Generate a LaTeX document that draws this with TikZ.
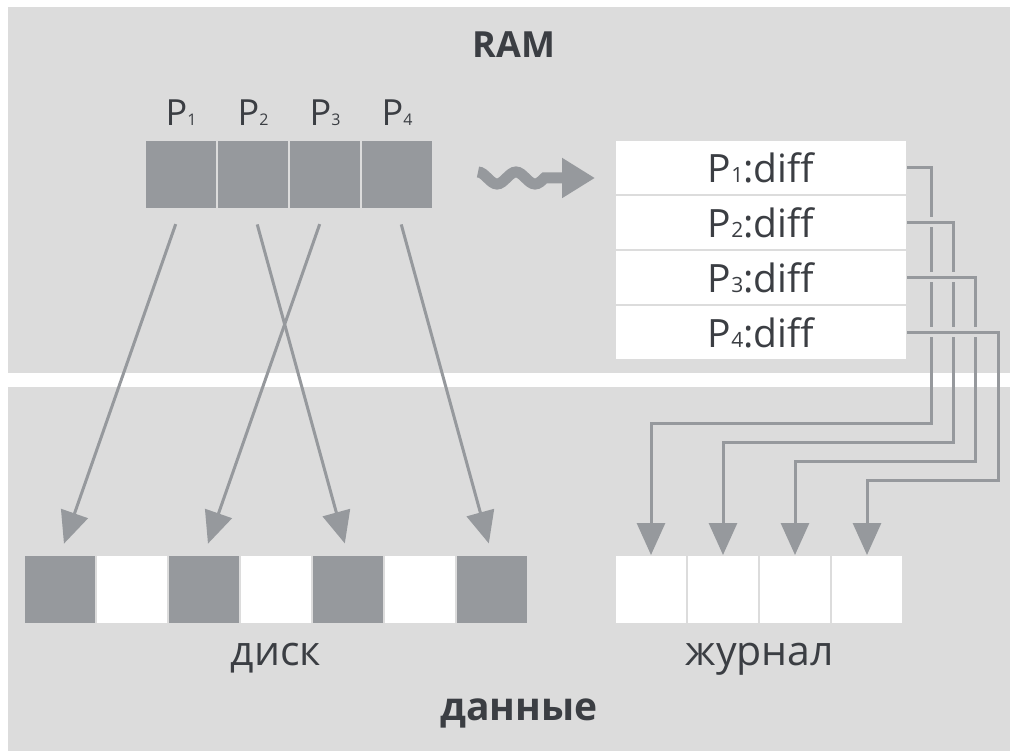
\documentclass[tikz,border=0pt]{standalone}
\usepackage{fontspec}
\setmainfont{Open Sans}
\usetikzlibrary{arrows.meta}
\usetikzlibrary{positioning}
\definecolor{panel}{HTML}{DCDCDC}
\definecolor{cell}{HTML}{96999D}
\definecolor{ink}{HTML}{3B3E43}
\tikzset{
  page/.style={draw=panel, line width=2pt, minimum width=72pt, minimum height=69pt, inner sep=0pt, outer sep=0pt},
  full/.style={page, fill=cell},
  blank/.style={page, fill=white},
  diffrow/.style={page, fill=white, minimum width=292pt, minimum height=55pt, text=ink, font=\fontsize{39}{44}\selectfont},
  link/.style={cell, line width=3pt, -{Triangle[length=32pt,width=28pt]}},
  label/.style={text=ink, inner sep=0pt},
}
\newcommand{\sub}[2]{{\fontsize{#1}{#1}\selectfont #2}}

\begin{document}
\begin{tikzpicture}[x=1pt, y=-1pt]
\useasboundingbox (0,0) rectangle (1010,751);
\fill[panel] (8,7) rectangle (1010,373);
\fill[panel] (8,387) rectangle (1010,751);
\node[label, font=\fontsize{36}{40}\selectfont\bfseries] (ram) at (514,45) {RAM};
% pages in memory
\foreach \i in {1,...,4} {
 \node[full] (p\i) at (109+72*\i,174.5) {};
 \node[label, anchor=base, font=\fontsize{36}{40}\selectfont] (pl\i) at ([yshift=14pt]p\i.north) {P\sub{16}{\i}};
}
% disk and log
\foreach \i in {1,...,7} {
 \ifodd\i \node[full] (d\i) at (-12+72*\i,589.5) {}; \else \node[blank] (d\i) at (-12+72*\i,589.5) {}; \fi
}
\foreach \i in {1,...,4} \node[blank] (j\i) at (579+72*\i,589.5) {};
\node[label, anchor=base, font=\fontsize{41}{46}\selectfont] (disk) at (276,665) {диск};
\node[label, anchor=base, font=\fontsize{41}{46}\selectfont] (log) at (760,665) {журнал};
\node[label, anchor=base, font=\fontsize{39}{44}\selectfont\bfseries] (data) at (519,720) {данные};
% diff records
\foreach \i in {1,...,4} \node[diffrow] (r\i) at (761,112.5+55*\i) {P\sub{21}{\i}:diff};
\draw[cell, line width=11pt, -{Triangle[length=33pt,width=38pt]}] (478,172) cos (487.5,178) sin (497,184) cos (506.5,178)
  sin (516,172) cos (525.5,178) sin (535,184) cos (544.5,178) -- (595,178);
\foreach \a/\b in {1/1, 2/5, 3/3, 4/7}
 \draw[link, shorten <=16pt, shorten >=12pt] (p\a.south) -- (d\b.north);
\foreach \i in {1,...,4} {
 \coordinate (t\i) at (908.6+22.4*\i,404+19*\i);
 \draw[panel, line width=10pt] (r\i.east) -- (r\i.east -| t\i);
 \draw[link] (r\i.east) -| (t\i) -| (j\i.north);
}
\end{tikzpicture}
\end{document}
